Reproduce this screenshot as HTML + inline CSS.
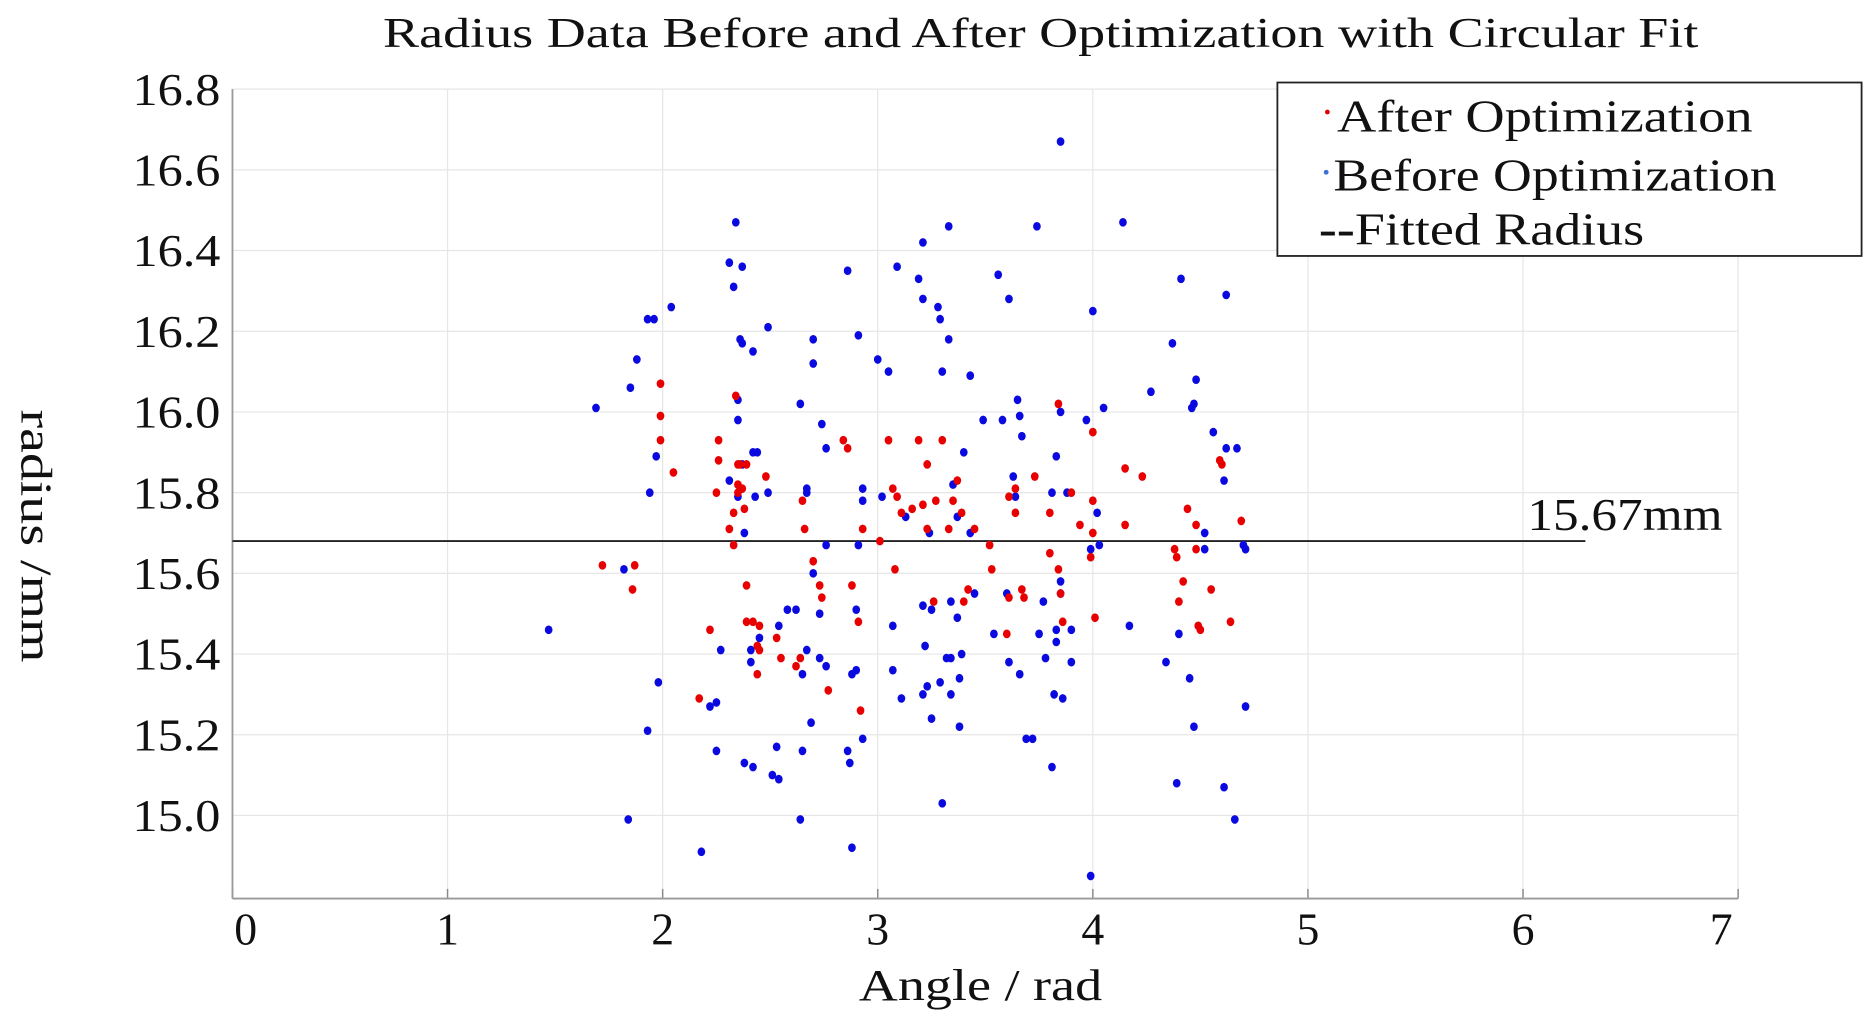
<!DOCTYPE html>
<html><head><meta charset="utf-8"><style>
html,body{margin:0;padding:0;background:#fff;}
svg{display:block;font-family:"Liberation Serif",serif;}
</style></head><body>
<svg id="chart" width="1867" height="1023" viewBox="0 0 1550 849.3" preserveAspectRatio="none">
<text x="318" y="39" font-size="35" textLength="1092" lengthAdjust="spacingAndGlyphs" fill="#111">Radius Data Before and After Optimization with Circular Fit</text>
<g id="grid"></g>
<g id="axes"></g>
<g id="fit"></g>
<g id="blue"></g>
<g id="red"></g>
<text transform="translate(18,340) rotate(90)" font-size="37" textLength="210" lengthAdjust="spacingAndGlyphs" fill="#111">radius /mm</text>
<text x="713" y="830" font-size="37" textLength="202" lengthAdjust="spacingAndGlyphs" fill="#111">Angle / rad</text>
<g>
<rect x="1060.5" y="68.5" width="485" height="144" fill="#fff" stroke="#222" stroke-width="1.5"/>
<circle cx="1102" cy="93" r="2" fill="#e00000"/>
<text x="1110" y="109" font-size="38" textLength="345" lengthAdjust="spacingAndGlyphs" fill="#111">After Optimization</text>
<circle cx="1101" cy="143" r="2" fill="#3a6fd8"/>
<text x="1107" y="158" font-size="38" textLength="368" lengthAdjust="spacingAndGlyphs" fill="#111">Before Optimization</text>
<text x="1095" y="203" font-size="38" textLength="270" lengthAdjust="spacingAndGlyphs" fill="#111"><tspan font-weight="bold">--</tspan>Fitted Radius</text>
</g>
</svg>
<script>
const xTicks=[0,1,2,3,4,5,6,7];
const yTicks=[15.0,15.2,15.4,15.6,15.8,16.0,16.2,16.4,16.6,16.8];
const yTickLabels=["15.0","15.2","15.4","15.6","15.8","16.0","16.2","16.4","16.6","16.8"];
const fitRadius=15.68;
const fitMaxAngle=6.29;
const fitLabel="15.67mm";
const beforeX=[1.69,1.47,1.88,1.85,1.93,1.96,2.04,1.94,1.97,1.82,1.98,1.93,1.84,2.18,2.22,2.25,2.27,2.25,2.34,2.31,2.33,2.37,2.36,2.37,2.35,2.35,2.42,2.49,2.44,2.42,2.37,2.35,2.31,2.38,2.43,2.49,2.41,2.45,2.41,2.58,2.62,2.54,2.53,2.54,2.51,2.42,2.38,2.64,2.70,2.70,2.74,2.76,2.67,2.67,2.76,2.73,2.70,2.67,2.65,2.73,2.76,2.65,2.69,2.64,2.86,2.91,2.93,2.93,3.00,3.05,2.91,2.90,2.88,2.90,2.86,2.87,2.93,2.88,3.09,3.21,3.19,3.21,3.28,3.29,3.33,3.33,3.30,3.43,3.02,3.13,3.24,3.21,3.25,3.22,3.21,3.29,3.32,3.34,3.37,3.34,3.23,3.25,3.11,3.07,3.07,3.39,3.38,3.38,3.34,3.30,3.37,3.35,3.40,3.45,3.43,3.56,3.61,3.74,3.85,3.49,3.58,3.65,3.66,3.67,3.63,3.64,3.81,3.88,3.83,3.85,3.97,4.05,3.99,4.02,3.85,3.85,3.77,3.83,3.83,3.90,3.90,3.78,3.75,3.60,3.54,3.61,3.66,3.69,3.72,3.81,3.86,3.82,4.00,4.27,4.14,4.03,3.99,4.37,4.41,4.48,4.47,4.46,4.62,4.56,4.62,4.67,4.61,4.52,4.52,4.71,4.70,4.17,4.34,4.40,4.45,4.47,4.39,4.61,4.66,4.71];
const beforeY=[16.01,15.46,16.13,16.06,16.23,16.23,16.26,15.80,15.89,15.61,15.33,15.21,14.99,14.91,15.27,15.28,15.41,15.16,16.47,16.37,16.31,16.36,16.18,16.17,15.98,16.03,16.15,16.21,15.90,15.90,15.87,15.79,15.83,15.70,15.79,15.80,15.38,15.44,15.41,15.51,15.51,15.47,15.17,15.09,15.10,15.12,15.13,16.02,16.18,16.12,15.97,15.91,15.81,15.80,15.67,15.50,15.60,15.41,15.35,15.39,15.37,15.16,15.23,14.99,16.35,16.19,15.81,15.78,16.13,16.10,15.67,15.51,15.35,15.36,15.16,15.13,15.19,14.92,16.36,16.42,16.33,16.28,16.26,16.23,16.46,16.18,16.10,16.09,15.79,15.74,15.70,15.52,15.51,15.42,15.30,15.33,15.39,15.39,15.49,15.53,15.32,15.24,15.29,15.36,15.47,15.40,15.34,15.22,15.30,15.03,15.74,15.82,15.90,15.55,15.70,16.34,16.28,16.46,16.67,15.98,15.98,16.03,15.99,15.94,15.84,15.79,15.80,15.80,15.89,16.00,15.98,16.01,15.66,15.75,15.58,15.55,15.53,15.46,15.43,15.46,15.38,15.39,15.45,15.55,15.45,15.38,15.35,15.19,15.19,15.12,15.29,15.30,16.25,16.05,16.47,15.67,14.85,16.17,16.33,16.08,16.02,16.01,16.29,15.95,15.91,15.91,15.83,15.70,15.66,15.66,15.67,15.47,15.38,15.45,15.34,15.22,15.08,15.07,14.99,15.27];
const afterX=[1.72,1.87,1.86,1.99,1.99,1.99,2.05,2.17,2.22,2.26,2.26,2.25,2.31,2.33,2.35,2.35,2.35,2.34,2.36,2.39,2.37,2.38,2.39,2.39,2.33,2.42,2.45,2.45,2.44,2.44,2.48,2.53,2.55,2.62,2.64,2.65,2.66,2.70,2.73,2.74,2.77,2.84,2.86,2.88,2.91,2.92,2.93,3.01,3.05,3.07,3.08,3.09,3.11,3.16,3.19,3.23,3.21,3.23,3.26,3.27,3.30,3.33,3.35,3.37,3.39,3.40,3.42,3.45,3.52,3.53,3.61,3.60,3.61,3.64,3.64,3.68,3.67,3.73,3.80,3.80,3.84,3.84,3.85,3.86,3.90,3.94,3.99,4.00,4.00,4.00,4.01,4.15,4.15,4.23,4.38,4.39,4.40,4.42,4.44,4.48,4.48,4.49,4.50,4.55,4.59,4.60,4.64,4.69];
const afterY=[15.62,15.62,15.56,16.07,15.99,15.93,15.85,15.29,15.46,15.93,15.88,15.80,15.71,15.75,15.87,15.80,15.82,16.04,15.87,15.87,15.81,15.76,15.57,15.48,15.67,15.48,15.41,15.47,15.42,15.35,15.84,15.44,15.39,15.37,15.39,15.78,15.71,15.63,15.57,15.54,15.31,15.93,15.91,15.57,15.48,15.26,15.71,15.68,15.93,15.81,15.61,15.79,15.75,15.76,15.93,15.87,15.77,15.71,15.53,15.78,15.93,15.71,15.78,15.83,15.75,15.53,15.56,15.71,15.67,15.61,15.54,15.45,15.79,15.81,15.75,15.54,15.56,15.84,15.75,15.65,15.61,16.02,15.55,15.48,15.80,15.72,15.64,15.70,15.78,15.95,15.49,15.86,15.72,15.84,15.66,15.64,15.53,15.58,15.76,15.72,15.66,15.47,15.46,15.56,15.88,15.87,15.48,15.73];

const NS="http://www.w3.org/2000/svg";
const L=193,R=1443,T=74,B=746,xMin=0,xMax=7,yTop=16.8,yBot=14.794;
function sx(v){return L+(v-xMin)/(xMax-xMin)*(R-L);}
function sy(v){return T+(yTop-v)/(yTop-yBot)*(B-T);}
function mk(tag,attrs,parent){const e=document.createElementNS(NS,tag);for(const k in attrs)e.setAttribute(k,attrs[k]);parent.appendChild(e);return e;}
const grid=document.getElementById('grid'),axes=document.getElementById('axes');
xTicks.forEach((t,i)=>{
  const g=mk('line',{x1:sx(t),x2:sx(t),y1:T,y2:B,stroke:'#e6e6e6','stroke-width':1},grid);
  
  
  const tk=mk('line',{x1:sx(t),x2:sx(t),y1:B,y2:B-8,stroke:'#888','stroke-width':1.2},axes);
  
  
  let off=0; if(i===0)off=11; if(i===xTicks.length-1)off=-14;
  const lb=mk('text',{x:sx(t)+off,y:784,'font-size':38,'text-anchor':'middle',fill:'#111'},axes);
  
  
  lb.textContent=String(t);
});
yTicks.forEach((t,i)=>{
  const g=mk('line',{x1:L,x2:R,y1:sy(t),y2:sy(t),stroke:'#e6e6e6','stroke-width':1},grid);
  
  
  const lb=mk('text',{x:110,y:sy(t)+13,'font-size':38,textLength:73,lengthAdjust:'spacingAndGlyphs',fill:'#111'},axes);
  
  
  lb.textContent=yTickLabels[i];
});
const ax1=mk('line',{x1:L,x2:L,y1:T,y2:B,stroke:'#999','stroke-width':1.5},axes);


const ax2=mk('line',{x1:L,x2:R,y1:B,y2:B,stroke:'#999','stroke-width':1.5},axes);


const fit=document.getElementById('fit');
const fl=mk('line',{x1:sx(0),x2:sx(fitMaxAngle),y1:sy(fitRadius),y2:sy(fitRadius),stroke:'#222','stroke-width':1.6},fit);


const ft=mk('text',{x:1268,y:sy(fitRadius)-9,'font-size':38,textLength:162,lengthAdjust:'spacingAndGlyphs',fill:'#111'},fit);


ft.textContent=fitLabel;
const blue=document.getElementById('blue');
beforeX.forEach((x,i)=>{
  const c=mk('ellipse',{cx:sx(x),cy:sy(beforeY[i]),rx:3.2,ry:3.6,fill:'#0a0ae0'},blue);
  
  
});
const red=document.getElementById('red');
afterX.forEach((x,i)=>{
  const c=mk('ellipse',{cx:sx(x),cy:sy(afterY[i]),rx:3.2,ry:3.6,fill:'#e80000'},red);
  
  
});
</script>
</body></html>
